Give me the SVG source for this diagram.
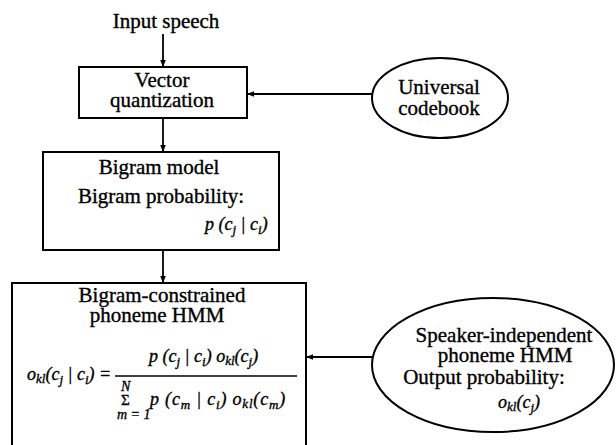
<svg xmlns="http://www.w3.org/2000/svg" width="616" height="445" viewBox="0 0 616 445">
<defs>
<marker id="ah" viewBox="0 0 10 10" refX="10" refY="5" markerWidth="7" markerHeight="7" markerUnits="userSpaceOnUse" orient="auto">
<path d="M0,1 L10,5 L0,9 z" fill="#000"/>
</marker>
</defs>
<style>
.box{fill:#fff;stroke:#000;stroke-width:2}
.t{font-family:"Liberation Serif",serif;font-size:21px;fill:#000;stroke:#000;stroke-width:0.35;text-anchor:middle}
.m{font-family:"Liberation Serif",serif;font-style:italic;font-size:18px;fill:#000;stroke:#000;stroke-width:0.35}
.s{font-size:13px}
.c{stroke:#000;stroke-width:1.8;fill:none;marker-end:url(#ah)}
</style>
<rect width="616" height="445" fill="#fff"/>
<g id="input">
<text class="t" x="166" y="28">Input speech</text>
</g>
<g id="vq">
<rect class="box" x="79" y="67" width="168" height="51"/>
<text class="t" x="162" y="87">Vector</text>
<text class="t" x="162" y="107">quantization</text>
</g>
<g id="codebook">
<ellipse class="box" cx="440" cy="98" rx="68" ry="40"/>
<text class="t" x="439" y="94">Universal</text>
<text class="t" x="439" y="115">codebook</text>
</g>
<g id="bigram">
<rect class="box" x="43" y="152" width="236" height="98"/>
<text class="t" x="159" y="174">Bigram model</text>
<text class="t" x="161" y="203">Bigram probability:</text>
<text class="m" x="205" y="230">p (c<tspan class="s" dy="4">j</tspan><tspan dy="-4"> | c</tspan><tspan class="s" dy="4">i</tspan><tspan dy="-4">)</tspan></text>
</g>
<g id="constrained">
<path class="box" d="M12,446 V283 H306 V446"/>
<text class="t" x="162" y="302">Bigram-constrained</text>
<text class="t" x="157" y="322">phoneme HMM</text>
<text class="m" x="27" y="380">o<tspan class="s" dy="3">kl</tspan><tspan dy="-3">(c</tspan><tspan class="s" dy="4">j</tspan><tspan dy="-4"> | c</tspan><tspan class="s" dy="4">i</tspan><tspan dy="-4">) =</tspan></text>
<line x1="115" y1="376" x2="297" y2="376" stroke="#000" stroke-width="1.5"/>
<text class="m" x="149" y="362">p (c<tspan class="s" dy="4">j</tspan><tspan dy="-4"> | c</tspan><tspan class="s" dy="4">i</tspan><tspan dy="-4">) o</tspan><tspan class="s" dy="3">kl</tspan><tspan dy="-3">(c</tspan><tspan class="s" dy="4">j</tspan><tspan dy="-4">)</tspan></text>
<text class="m" x="121" y="391" style="font-size:14px">N</text>
<text class="m" x="121" y="405" style="font-style:normal;font-size:15px">Σ</text>
<text class="m" x="117" y="419" style="font-size:14px">m = 1</text>
<text class="m" x="150" y="405" style="letter-spacing:0.8px">p (c<tspan class="s" dy="4">m</tspan><tspan dy="-4"> | c</tspan><tspan class="s" dy="4">i</tspan><tspan dy="-4">) o</tspan><tspan class="s" dy="3">kl</tspan><tspan dy="-3">(c</tspan><tspan class="s" dy="4">m</tspan><tspan dy="-4">)</tspan></text>
</g>
<g id="speaker">
<ellipse class="box" cx="493" cy="365" rx="121" ry="67"/>
<text class="t" x="504" y="342">Speaker-independent</text>
<text class="t" x="505" y="362">phoneme HMM</text>
<text class="t" x="484" y="384">Output probability:</text>
<text class="m" x="498" y="408">o<tspan class="s" dy="3">kl</tspan><tspan dy="-3">(c</tspan><tspan class="s" dy="4">j</tspan><tspan dy="-4">)</tspan></text>
</g>
<g id="connectors">
<line class="c" x1="163" y1="34" x2="163" y2="67"/>
<line class="c" x1="372" y1="94" x2="247" y2="94"/>
<line class="c" x1="163" y1="118" x2="163" y2="152"/>
<line class="c" x1="163" y1="250" x2="163" y2="283"/>
<line class="c" x1="372" y1="357" x2="306" y2="357"/>
</g>
</svg>
